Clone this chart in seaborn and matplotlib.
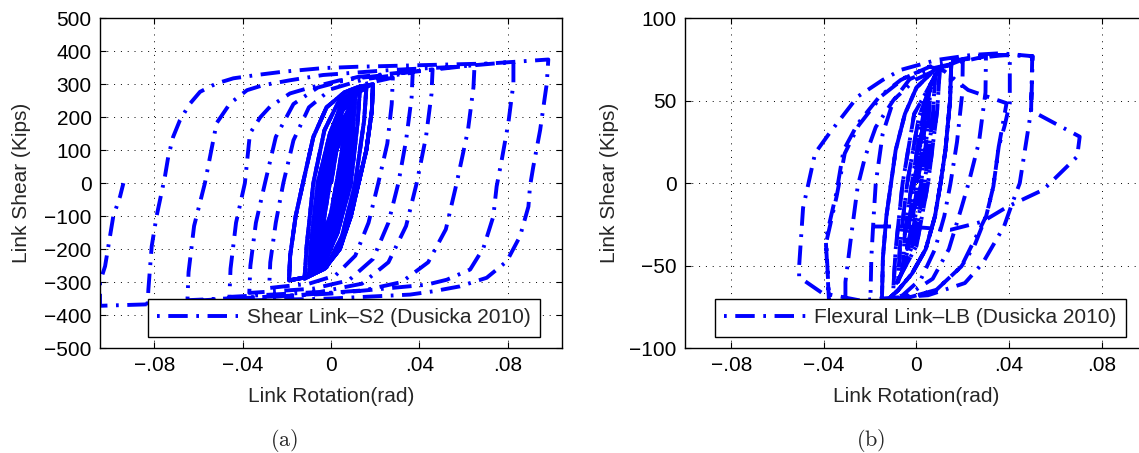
import matplotlib
matplotlib.use("Agg")
import matplotlib.pyplot as plt
import seaborn as sns

# ---------------- data ----------------
# (a) Shear link S2 (Dusicka 2010): small repeated cycles, rotation [rad] / shear [kips]
s2_core_rot = [0.0, 0.0025, 0.006, 0.005, 0.0025, 0.0, -0.003, -0.004, -0.003, -0.0005, 0.002, 0.005, 0.006,
               0.007, 0.0062, 0.0038, 0.0, -0.004, -0.0055, -0.0045, -0.0015, 0.002, 0.0058, 0.007,
               0.008, 0.0072, 0.005, 0.001, -0.004, -0.006, -0.005, -0.002, 0.0015, 0.006, 0.008,
               0.009, 0.0082, 0.006, 0.0015, -0.004, -0.007, -0.006, -0.003, 0.0005, 0.005, 0.009,
               0.010, 0.0092, 0.007, 0.002, -0.004, -0.008, -0.007, -0.004, 0.001, 0.006, 0.010,
               0.011, 0.010, 0.008, 0.0025, -0.0035, -0.009, -0.008, -0.005, -0.0005, 0.0055, 0.011,
               0.013, 0.012, 0.009, 0.003, -0.003, -0.010, -0.009, -0.006, -0.0005, 0.005, 0.013,
               0.016, 0.015, 0.011, 0.005, -0.002, -0.012, -0.011, -0.008, -0.003, 0.004, 0.016,
               0.019, 0.0185, 0.016, 0.0125, 0.009, 0.004, -0.003, -0.011, -0.019,
               -0.0185, -0.016, -0.0127, -0.008, -0.002, 0.006, 0.013, 0.019,
               0.0185, 0.016, 0.0125, 0.009, 0.004, -0.003, -0.011, -0.019]
s2_core_shear = [0, 100, 170, 100, 0, -90, -150, -170, -100, 0, 90, 150, 170,
                 200, 110, 0, -110, -185, -200, -110, 0, 110, 185, 200,
                 220, 130, 0, -120, -200, -220, -130, 0, 120, 200, 222,
                 240, 150, 0, -130, -215, -240, -150, 0, 130, 220, 242,
                 255, 160, 0, -140, -230, -255, -160, 0, 140, 235, 258,
                 265, 170, 0, -145, -240, -265, -170, 0, 145, 240, 267,
                 275, 180, 0, -150, -245, -278, -180, 0, 150, 245, 278,
                 288, 190, 0, -160, -255, -290, -190, 0, 160, 255, 292,
                 300, 220, 100, 0, -100, -200, -260, -285, -295,
                 -220, -100, 0, 140, 230, 275, 293, 300,
                 220, 100, 0, -100, -200, -260, -285, -295]

# large cycles 0.028 ... 0.10 rad
s2_outer_rot = [-0.019,
                -0.0185, -0.016, -0.0127, -0.008, -0.002, 0.006, 0.016, 0.028,
                0.0275, 0.0255, 0.0214, 0.017, 0.011, 0.002, -0.01, -0.028,
                -0.0275, -0.025, -0.0216, -0.017, -0.01, 0.0, 0.015, 0.037,
                0.0365, 0.034, 0.0305, 0.026, 0.019, 0.008, -0.008, -0.037,
                -0.0365, -0.034, -0.0299, -0.025, -0.017, -0.006, 0.012, 0.046,
                0.0455, 0.043, 0.0388, 0.034, 0.026, 0.014, -0.005, -0.046,
                -0.0455, -0.043, -0.039, -0.0367, -0.032, -0.0276, -0.0186, -0.011, 0.004, 0.027, 0.065,
                0.0645, 0.062, 0.0569, 0.052, 0.044, 0.032, 0.015, -0.02, -0.065,
                -0.0645, -0.062, -0.0571, -0.0545, -0.0518, -0.0457, -0.038, -0.0308, -0.0186, -0.0036,
                0.0267, 0.057, 0.0826,
                0.0826, 0.0803, 0.0773, 0.075, 0.0735, 0.069, 0.063, 0.0524, 0.0433, 0.0, -0.05, -0.083,
                -0.0827, -0.0812, -0.079, -0.0752, -0.0737, -0.0715, -0.0684, -0.064, -0.0593, -0.052,
                -0.0442, -0.0337, -0.0217, -0.0036, 0.0118, 0.042, 0.072, 0.087, 0.0984,
                0.0977, 0.0947, 0.0916, 0.0901, 0.0894, 0.0856, 0.0796, 0.0705, 0.0584, 0.0463, 0.0358,
                0.0, -0.04, -0.085, -0.1046,
                -0.1046, -0.1023, -0.0986, -0.0955, -0.094]
s2_outer_shear = [-295,
                  -220, -100, 0, 140, 230, 275, 302, 320,
                  240, 120, 0, -120, -220, -280, -305, -318,
                  -240, -120, 0, 130, 230, 285, 315, 335,
                  260, 130, 0, -120, -230, -295, -320, -333,
                  -250, -120, 0, 140, 240, 290, 322, 345,
                  270, 140, 0, -130, -240, -305, -330, -345,
                  -260, -120, 0, 151, 200, 232, 272, 287, 312, 330, 358,
                  290, 160, 0, -140, -240, -300, -325, -342, -355,
                  -270, -130, 0, 90, 182, 242, 282, 297, 312, 328,
                  343, 353, 368,
                  302, 182, 70, -10, -101, -197, -262, -293, -308, -335, -352, -365,
                  -323, -192, -101, 20, 80, 140, 191, 240, 277, 302,
                  318, 328, 338, 349, 353, 358, 363, 370, 375,
                  302, 161, 50, -10, -71, -161, -237, -287, -313, -328, -338,
                  -350, -356, -368, -372,
                  -300, -252, -101, -40, 0]

# (b) Flexural link LB (Dusicka 2010)
lb_core_rot = [0.0, 0.002, 0.004, 0.003, 0.0005, -0.002, -0.004, -0.003, -0.001, 0.002, 0.004,
               0.006, 0.005, 0.002, -0.002, -0.006, -0.005, -0.002, 0.002, 0.006,
               0.008, 0.007, 0.0035, -0.001, -0.008, -0.007, -0.004, 0.001, 0.008,
               0.010, 0.009, 0.005, 0.0, -0.010, -0.009, -0.006, -0.001, 0.010,
               0.015, 0.0145, 0.0125, 0.0104, 0.008, 0.004, -0.002, -0.008, -0.015,
               -0.0145, -0.013, -0.011, -0.009, -0.005, 0.0, 0.008, 0.015,
               0.0145, 0.0125, 0.0104, 0.008, 0.004, -0.002, -0.008, -0.015]
lb_core_shear = [0, 28, 45, 25, 0, -25, -40, -22, 0, 28, 45,
                 58, 35, 0, -32, -52, -30, 0, 35, 60,
                 64, 40, 0, -35, -60, -35, 0, 40, 66,
                 68, 45, 0, -38, -64, -40, 0, 42, 70,
                 72, 50, 20, 0, -20, -40, -55, -65, -74,
                 -45, -20, 0, 20, 42, 58, 69, 72,
                 50, 20, 0, -20, -40, -55, -65, -74]

lb_outer_rot = [-0.015,
                -0.0145, -0.013, -0.011, -0.009, -0.005, 0.0, 0.008, 0.020,
                0.0198, 0.0175, 0.0147, 0.012, 0.008, 0.002, -0.006, -0.020,
                -0.0195, -0.0185, -0.0176, -0.0146, -0.010, -0.003, 0.008, 0.030,
                0.0298, 0.027, 0.0225, 0.0194, 0.014, 0.007, -0.005, -0.0307,
                -0.0307, -0.0284, -0.0254, -0.0222, -0.0176, -0.0099, -0.0007, 0.0086, 0.020, 0.0403, 0.0403,
                0.0381, 0.0355, 0.0332, 0.0301, 0.025, 0.0194, 0.0086, -0.010, -0.0376,
                -0.0392, -0.0346, -0.0315, -0.0254, -0.016, -0.0068, 0.0055, 0.012, 0.0223, 0.0389,
                0.0355, 0.0332, 0.0301, 0.0194, 0.0086, -0.010, -0.0376,
                -0.039, -0.0345, -0.031, -0.025, -0.015, -0.005, 0.008, 0.030, 0.050, 0.0495,
                0.0446, 0.0409, 0.0378, 0.0286, 0.0209, 0.005, -0.025, -0.0407, -0.0507,
                -0.0507, -0.049, -0.0438, -0.0376, -0.0254, -0.0146, -0.0068, 0.0086, 0.0239, 0.0363, 0.0502,
                0.0495, 0.0705, 0.0694, 0.0548, 0.0394, 0.0286, 0.0147, -0.0038, -0.019]
lb_outer_shear = [-74,
                  -45, -20, 0, 20, 42, 58, 69, 75,
                  55, 25, 0, -20, -40, -58, -68, -76,
                  -45, -20, 0, 30, 50, 63, 70, 77,
                  55, 25, 0, -15, -40, -58, -69, -77,
                  -60, -34, -2, 16, 34, 50.5, 62.6, 68.7, 75, 78, 48.5,
                  35, 22, -2, -20, -38, -50.5, -64.7, -72, -77,
                  -34, -6, 20, 36, 52.5, 62.6, 70.7, 68, 56.5, 48.5,
                  22, -2, -20, -50.5, -64.7, -72, -76,
                  -36, -8, 18, 35, 53, 64, 72, 78, 77, 44,
                  0, -14, -26.3, -48.5, -60.6, -68, -71, -66.7, -57,
                  -50.5, -15, 18.2, 30.3, 52.5, 62.6, 68.7, 74.7, 77.8, 78.8, 77,
                  44, 28.2, 16.1, -4, -14.2, -23.3, -28.3, -26.3, -26.3]

s2_label = "Shear Link\u2013S2 (Dusicka 2010)"
lb_label = "Flexural Link\u2013LB (Dusicka 2010)"
rot_ticks = [-0.08, -0.04, 0, 0.04, 0.08]
rot_ticklabels = ["\u2212.08", "\u2212.04", "0", ".04", ".08"]
s2_yticks = list(range(-500, 501, 100))
lb_yticks = [-100, -50, 0, 50, 100]

# ---------------- style ----------------
sns.set_style("ticks")
plt.rcParams["font.family"] = ["Liberation Sans", "DejaVu Sans"]
plt.rcParams["mathtext.fontset"] = "cm"
plt.rcParams["font.size"] = 15

dash = (5.0, 2.2, 0.7, 2.2)
lw = 2.8


def panel(ax, core_x, core_y, x, y, label, xlim, ylim, yticks, lab_x, offsets):
    # the small cycles are repeated many times in the test -> drawn with shifted dashes
    for off in offsets:
        sns.lineplot(x=core_x, y=core_y, sort=False, estimator=None, ax=ax,
                     color="#0000ff", linewidth=lw, linestyle=(off, dash))
    sns.lineplot(x=x, y=y, sort=False, estimator=None, ax=ax, color="#0000ff",
                 linewidth=lw, linestyle=(0, dash), label=label)
    ax.set_xlim(xlim)
    ax.set_ylim(ylim)
    ax.set_xticks(rot_ticks)
    ax.set_xticklabels(rot_ticklabels)
    ax.set_yticks(yticks)
    ax.set_yticklabels([str(v).replace("-", "\u2212") for v in yticks])
    ax.grid(True, color="black", linestyle=(0, (1, 6)), linewidth=0.7)
    ax.tick_params(direction="in", length=4, width=0.8, top=True, right=True,
                   labelsize=15, pad=6, colors="black")
    for s in ax.spines.values():
        s.set_visible(True)
        s.set_linewidth(1.0)
        s.set_color("black")
    ax.set_xlabel("Link Rotation(rad)", fontsize=15)
    ax.set_ylabel("Link Shear (Kips)", fontsize=15)
    ax.xaxis.label.set_va("center")
    ax.yaxis.label.set_va("center")
    ax.xaxis.set_label_coords(0.5, -0.1486)
    ax.yaxis.set_label_coords(lab_x, 0.5)


fig = plt.figure(figsize=(11.39, 4.53), dpi=100)
ax1 = fig.add_axes([100 / 1139, 105 / 453, 462 / 1139, 329.7 / 453])
ax2 = fig.add_axes([685 / 1139, 105 / 453, 463 / 1139, 329.7 / 453])

panel(ax1, s2_core_rot, s2_core_shear, s2_outer_rot, s2_outer_shear, s2_label,
      (-0.1046, 0.1046), (-500, 500), s2_yticks, -0.169, (0, 4, 8, 12))
panel(ax2, lb_core_rot, lb_core_shear, lb_outer_rot, lb_outer_shear, lb_label,
      (-0.1, 0.1), (-100, 100), lb_yticks, -0.164, (0, 8))

for ax, x0 in ((ax1, 147.7), (ax2, 715)):
    leg = ax.legend(loc="upper left", bbox_to_anchor=(x0 / 1139, 1 - 299 / 453),
                    bbox_transform=fig.transFigure, borderaxespad=0, fancybox=False,
                    framealpha=1, edgecolor="black", borderpad=0.45,
                    handlelength=3.9, handletextpad=0.42, fontsize=15)
    leg.get_frame().set_linewidth(1.0)
    # legend sample starts with the dot, as in the original
    leg.get_lines()[0].set_linestyle((7.2, dash))

fig.text(284 / 1139, 13 / 453, r"$\mathrm{(a)}$", ha="center", va="center", fontsize=16)
fig.text(870.5 / 1139, 13 / 453, r"$\mathrm{(b)}$", ha="center", va="center", fontsize=16)

fig.savefig("out.png", dpi=100)
